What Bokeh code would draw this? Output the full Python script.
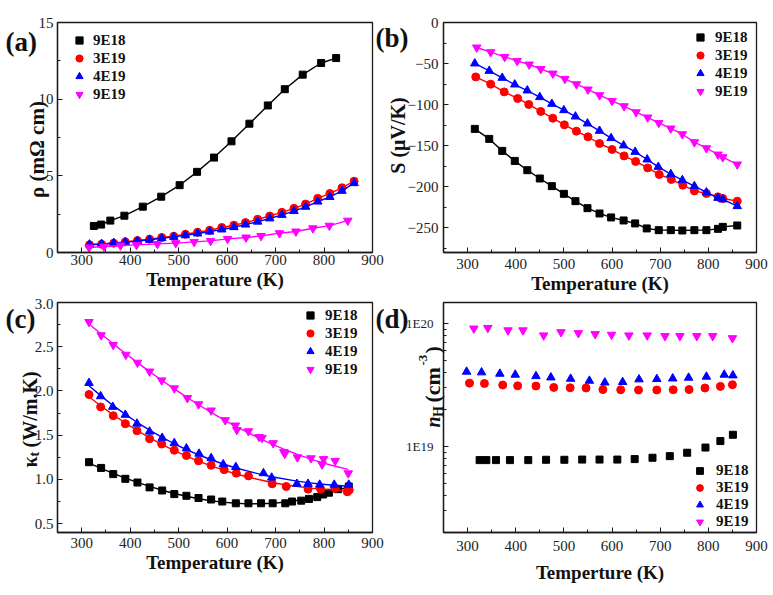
import math
import numpy as np
from bokeh.plotting import figure
from bokeh.models import (Label, Legend, LegendItem, SingleIntervalTicker, FixedTicker,
                          CustomJSTickFormatter, PrintfTickFormatter, Range1d)
from bokeh.layouts import gridplot, column
from bokeh.embed import file_html
from bokeh.resources import INLINE

# ---------------- data ----------------
series_names = ["9E18", "3E19", "4E19", "9E19"]

# (a) resistivity, mOhm cm
a_T_9E18 = [325, 340, 359, 388, 426, 464, 502, 538, 573, 609, 646, 684, 719, 756, 794, 825]
a_9E18 = [1.73, 1.82, 2.08, 2.40, 2.99, 3.64, 4.39, 5.26, 6.19, 7.25, 8.40, 9.59, 10.65, 11.60, 12.36, 12.68]
a_T_3E19 = [316, 341, 366, 390, 415, 440, 465, 490, 514, 539, 564, 589, 614, 638, 663, 688, 713, 738, 762, 787, 812, 837, 862]
a_3E19 = [0.50, 0.54, 0.61, 0.69, 0.78, 0.87, 0.98, 1.06, 1.19, 1.32, 1.45, 1.63, 1.78, 1.95, 2.17, 2.38, 2.62, 2.88, 3.16, 3.53, 3.85, 4.22, 4.65]
a_T_4E19 = [316, 341, 366, 390, 415, 440, 465, 490, 514, 539, 564, 589, 614, 638, 663, 688, 713, 738, 762, 787, 812, 837, 862]
a_4E19 = [0.52, 0.56, 0.62, 0.68, 0.75, 0.83, 0.93, 1.02, 1.12, 1.24, 1.36, 1.50, 1.65, 1.82, 2.01, 2.22, 2.45, 2.70, 2.98, 3.32, 3.62, 4.02, 4.52]
a_T_9E19 = [315, 346, 380, 413, 456, 494, 532, 566, 601, 639, 670, 708, 742, 777, 811, 849]
a_9E19 = [0.33, 0.39, 0.46, 0.50, 0.56, 0.61, 0.69, 0.76, 0.89, 0.98, 1.08, 1.26, 1.37, 1.58, 1.75, 2.08]

# (b) Seebeck, uV/K
b_T_9E18 = [315, 345, 372, 398, 424, 450, 475, 500, 524, 549, 574, 598, 624, 648, 672, 697, 722, 746, 771, 796, 820, 830, 860]
b_9E18 = [-129.5, -141.7, -156.3, -168.5, -179.8, -189.9, -199.2, -208.6, -217.5, -226.0, -232.5, -237.3, -241.0, -244.6, -250.7, -252.8, -252.8, -253.2, -252.8, -252.8, -251.2, -248.8, -247.1]
b_T_3E19 = [317, 348, 376, 404, 427, 452, 477, 501, 526, 550, 574, 600, 625, 649, 674, 698, 723, 747, 771, 796, 820, 830, 860]
b_3E19 = [-66.2, -75.1, -84.5, -92.5, -99.8, -108.3, -116.5, -124.6, -132.3, -139.2, -147.3, -154.6, -162.4, -169.2, -177.0, -185.0, -191.1, -198.0, -205.0, -208.2, -212.3, -214.2, -217.5]
b_T_4E19 = [315, 345, 372, 398, 424, 450, 475, 500, 524, 549, 574, 598, 624, 648, 673, 696, 722, 746, 771, 796, 820, 830, 860]
b_4E19 = [-49.9, -58.9, -67.4, -75.5, -82.8, -90.9, -99.1, -106.8, -114.5, -123.0, -131.9, -140.8, -149.7, -157.5, -166.8, -175.8, -184.6, -191.9, -199.2, -206.9, -213.5, -215.4, -223.6]
b_T_9E19 = [319, 348, 377, 403, 428, 452, 477, 502, 526, 550, 574, 600, 625, 650, 674, 697, 722, 746, 771, 796, 820, 830, 860]
b_9E19 = [-30.4, -36.1, -41.9, -46.7, -51.1, -56.5, -62.1, -68.6, -75.1, -81.5, -88.5, -95.4, -101.9, -109.2, -115.6, -122.2, -129.0, -136.0, -145.7, -153.0, -160.7, -164.0, -172.8]

# (c) total thermal conductivity, W/m.K
c_T_9E18 = [315, 340, 365, 390, 415, 440, 466, 491, 516, 541, 567, 590, 618, 644, 670, 694, 720, 734, 753, 769, 786, 798, 810, 829, 851]
c_9E18 = [1.195, 1.13, 1.06, 1.007, 0.965, 0.91, 0.875, 0.834, 0.815, 0.79, 0.773, 0.75, 0.73, 0.73, 0.73, 0.73, 0.73, 0.75, 0.76, 0.78, 0.80, 0.83, 0.85, 0.89, 0.92]
c_T_3E19 = [315, 339, 365, 390, 414, 440, 465, 491, 516, 541, 567, 594, 619, 644, 693, 722, 767, 793, 823, 848, 852]
c_3E19 = [1.96, 1.82, 1.72, 1.63, 1.55, 1.46, 1.40, 1.33, 1.27, 1.21, 1.16, 1.11, 1.07, 1.04, 0.95, 0.92, 0.89, 0.89, 0.90, 0.86, 0.88]
c_T_4E19 = [315, 339, 364, 390, 414, 440, 466, 491, 516, 542, 567, 592, 618, 675, 692, 744, 767, 791, 821, 851]
c_4E19 = [2.09, 1.94, 1.82, 1.73, 1.63, 1.54, 1.47, 1.41, 1.35, 1.29, 1.24, 1.17, 1.14, 1.07, 1.02, 0.95, 0.95, 0.94, 0.94, 0.94]
c_T_9E19 = [315, 340, 365, 391, 415, 440, 465, 491, 518, 541, 567, 596, 617, 620, 644, 666, 672, 695, 717, 719, 745, 773, 796, 799, 823, 850]
c_9E19 = [2.78, 2.63, 2.52, 2.41, 2.32, 2.22, 2.12, 2.03, 1.92, 1.85, 1.78, 1.67, 1.61, 1.56, 1.545, 1.48, 1.47, 1.41, 1.31, 1.29, 1.25, 1.24, 1.17, 1.23, 1.21, 1.07]

# (d) Hall carrier concentration, cm^-3
d_T_9E18 = [325, 339, 359, 388, 426, 463, 501, 538, 574, 611, 647, 684, 720, 756, 794, 825, 851]
d_9E18 = [7.75e18, 7.75e18, 7.75e18, 7.75e18, 7.75e18, 7.8e18, 7.8e18, 7.83e18, 7.83e18, 7.83e18, 7.9e18, 8.1e18, 8.35e18, 8.9e18, 9.8e18, 1.107e19, 1.245e19]
d_T_3E19 = [304, 335, 373, 404, 442, 479, 513, 546, 581, 618, 655, 693, 727, 760, 793, 825, 850]
d_3E19 = [3.27e19, 3.25e19, 3.16e19, 3.11e19, 3.10e19, 3.02e19, 3.00e19, 2.99e19, 2.90e19, 2.89e19, 2.88e19, 2.88e19, 2.89e19, 2.90e19, 2.99e19, 3.08e19, 3.18e19]
d_T_4E19 = [298, 329, 367, 399, 442, 473, 514, 553, 585, 622, 656, 693, 726, 759, 796, 833, 851]
d_4E19 = [4.05e19, 4.0e19, 3.9e19, 3.83e19, 3.73e19, 3.64e19, 3.55e19, 3.42e19, 3.31e19, 3.34e19, 3.51e19, 3.53e19, 3.57e19, 3.62e19, 3.69e19, 3.83e19, 3.78e19]
d_T_9E19 = [313, 342, 384, 415, 458, 494, 530, 565, 599, 635, 673, 710, 741, 776, 809, 850]
d_9E19 = [9.1e19, 9.2e19, 8.8e19, 8.8e19, 8.0e19, 8.5e19, 8.35e19, 8.2e19, 8.1e19, 8.0e19, 8.0e19, 7.9e19, 7.9e19, 7.9e19, 7.9e19, 7.6e19]

# ---------------- style ----------------
FONT = "Liberation Serif"
COLORS = ["#000000", "#ff0000", "#0000ff", "#ff00ff"]
MARKERS = ["square", "circle", "triangle", "inverted_triangle"]
SIZES = [7, 8, 8.5, 8.5]
DARK = "#1a1a1a"
TXT = "#111111"
PAGE_W, PAGE_H = 772, 594


def make_fig(w, h, left, right, top, bottom, xr, yr, y_type="linear"):
    p = figure(width=w, height=h, x_range=Range1d(*xr), y_range=Range1d(*yr),
               y_axis_type=y_type, output_backend="svg", toolbar_location=None,
               min_border_left=left, min_border_right=right,
               min_border_top=top, min_border_bottom=bottom)
    p.xgrid.visible = False
    p.ygrid.visible = False
    p.outline_line_color = DARK
    p.outline_line_width = 1.3
    for ax in (p.xaxis[0], p.yaxis[0]):
        ax.major_tick_in = 5
        ax.major_tick_out = 0
        ax.minor_tick_in = 3
        ax.minor_tick_out = 0
        ax.axis_line_color = DARK
        ax.axis_line_width = 1.3
        ax.major_tick_line_color = DARK
        ax.minor_tick_line_color = DARK
        ax.major_label_text_font = FONT
        ax.major_label_text_font_size = "15px"
        ax.major_label_text_color = "#222222"
        ax.axis_label_text_font = FONT
        ax.axis_label_text_font_style = "bold"
        ax.axis_label_text_font_size = "19px"
        ax.axis_label_text_color = TXT
    p.xaxis[0].ticker = SingleIntervalTicker(interval=100, num_minor_ticks=2)
    p.xaxis[0].axis_label = "Temperature (K)"
    return p


def add_series(p, Ts, Vs, with_lines=True, fit=False):
    rs = []
    for T, V, c, m, s in zip(Ts, Vs, COLORS, MARKERS, SIZES):
        if with_lines:
            if fit:
                coef = np.polyfit(T, V, 3)
                p.line(T, np.polyval(coef, T), line_color=c, line_width=1.4)
            else:
                p.line(T, V, line_color=c, line_width=1.4)
        r = p.scatter(T, V, marker=m, size=s, fill_color=c, line_color=c)
        rs.append(r)
    return rs


def add_legend(p, rs, loc, standoff, row=18):
    items = [LegendItem(label=n, renderers=[r]) for n, r in zip(series_names, rs)]
    leg = Legend(items=items, location=loc, glyph_width=row, glyph_height=row,
                 label_height=row, spacing=0, padding=0, margin=0,
                 label_standoff=standoff, label_text_font=FONT,
                 label_text_font_style="bold", label_text_font_size="15px",
                 label_text_color=TXT,
                 border_line_color=None, background_fill_alpha=0)
    p.add_layout(leg)


# ---------------- (a) ----------------
pa = make_fig(388, 298, 57, 16, 22, 45, (250, 900), (0, 15))
pa.yaxis[0].ticker = SingleIntervalTicker(interval=5, num_minor_ticks=2)
pa.xaxis[0].major_label_standoff = 2
pa.xaxis[0].axis_label_standoff = 1
pa.yaxis[0].major_label_standoff = 4
ra = add_series(pa, [a_T_9E18, a_T_3E19, a_T_4E19, a_T_9E19], [a_9E18, a_3E19, a_4E19, a_9E19])
add_legend(pa, ra, (13, 149), 5)

# ---------------- (b) ----------------
pb = make_fig(384, 298, 53, 15, 22, 46, (250, 900), (-280, 0))
pb.yaxis[0].ticker = SingleIntervalTicker(interval=50, num_minor_ticks=2)
pb.xaxis[0].major_label_standoff = 6
pb.xaxis[0].axis_label_standoff = 1
pb.yaxis[0].major_label_standoff = 5
rb = add_series(pb, [b_T_9E18, b_T_3E19, b_T_4E19, b_T_9E19], [b_9E18, b_3E19, b_4E19, b_9E19])
add_legend(pb, rb, (248, 152), 6)

# ---------------- (c) ----------------
pc = make_fig(388, 296, 57, 16, 4, 61, (250, 900), (0.4, 3.0))
pc.yaxis[0].ticker = SingleIntervalTicker(interval=0.5, num_minor_ticks=2)
pc.yaxis[0].formatter = PrintfTickFormatter(format="%.1f")
pc.xaxis[0].major_label_standoff = 5
pc.xaxis[0].axis_label_standoff = 1
pc.yaxis[0].major_label_standoff = 4
rc = add_series(pc, [c_T_9E18, c_T_3E19, c_T_4E19, c_T_9E19], [c_9E18, c_3E19, c_4E19, c_9E19], fit=True)
add_legend(pc, rc, (244, 154), 6)

# ---------------- (d) ----------------
pd = make_fig(384, 296, 55, 16, 4, 62, (250, 900), (2.0e18, 1.48e20), y_type="log")
pd.yaxis[0].ticker = FixedTicker(
    ticks=[1e19, 1e20],
    minor_ticks=[k * 1e18 for k in range(2, 10)] + [k * 1e19 for k in range(2, 10)])
pd.yaxis[0].formatter = CustomJSTickFormatter(code="return '1E' + Math.round(Math.log10(tick));")
pd.yaxis[0].major_label_text_font_size = "13px"
pd.yaxis[0].major_label_standoff = 10
pd.xaxis[0].major_label_standoff = 8
pd.xaxis[0].axis_label_standoff = 8
pd.xaxis[0].axis_label = "Temperture (K)"
rd = add_series(pd, [d_T_9E18, d_T_3E19, d_T_4E19, d_T_9E19], [d_9E18, d_3E19, d_4E19, d_9E19],
                with_lines=False)
add_legend(pd, rd, (248, 2), 8, row=17)

grid = gridplot([[pa, pb], [pc, pd]], toolbar_location=None)

# ---------------- transparent overlay for panel letters and y-axis titles ----------------
ov = figure(width=PAGE_W, height=PAGE_H, x_range=Range1d(0, PAGE_W), y_range=Range1d(PAGE_H, 0),
            output_backend="svg", toolbar_location=None,
            x_axis_location=None, y_axis_location=None, min_border=0)
ov.xgrid.visible = False
ov.ygrid.visible = False
ov.outline_line_color = None
ov.background_fill_color = None
ov.border_fill_color = None
ov.margin = (-PAGE_H, 0, 0, 0)


def txt(text, x, y, size, style="bold", angle=0.0, align="left", baseline="middle"):
    ov.add_layout(Label(x=x, y=y, text=text, angle=angle, text_font=FONT,
                        text_font_style=style, text_font_size=size, text_color=TXT,
                        text_align=align, text_baseline=baseline))


# panel letters
txt("(a)", 5, 41, "27px")
txt("(b)", 375, 37, "27px")
txt("(c)", 5, 318, "27px")
txt("(d)", 375, 318, "27px")

V = math.pi / 2
# (a) rho
txt("ρ (mΩ cm)", 36, 149, "21px", angle=V, align="center")
# (b) S
txt("S (μV/K)", 397, 135, "20px", angle=V, align="center")
# (c) kappa_t (W/m.K)
txt("κ", 29, 467, "20px", angle=V, baseline="alphabetic")
txt("t", 34, 456, "14px", angle=V, baseline="alphabetic")
txt("(W/m.K)", 29, 447, "20px", angle=V, baseline="alphabetic")
# (d) n_H (cm^-3)
txt("n", 432, 427, "20px", style="bold italic", angle=V, baseline="alphabetic")
txt("H", 438, 416.5, "14px", angle=V, baseline="alphabetic")
txt("(cm", 432, 402, "22px", angle=V, baseline="alphabetic")
txt("-3", 422, 365, "13px", angle=V, baseline="alphabetic")
txt(")", 432, 353, "22px", angle=V, baseline="alphabetic")

page = column(grid, ov)

with open("out.html", "w", encoding="utf-8") as f:
    f.write(file_html(page, INLINE, "Thermoelectric properties"))
